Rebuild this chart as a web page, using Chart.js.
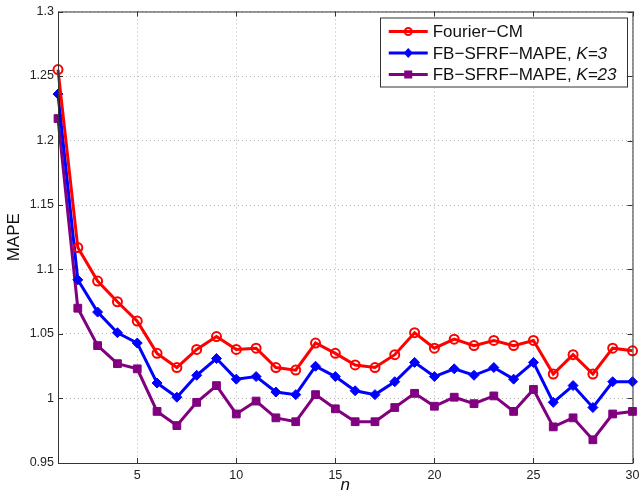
<!DOCTYPE html>
<html lang="en">
<head>
    <meta charset="utf-8">
    <title>MAPE vs n</title>
    <script src="https://cdn.jsdelivr.net/npm/chart.js"></script>
    <style>
        html, body {
            margin: 0;
            padding: 0;
            background: #fff;
        }

        #chartBox {
            width: 639px;
            height: 503px;
        }
    </style>
</head>
<body>
    <div id="chartBox">
        <canvas id="mapeChart"></canvas>
    </div>
    <script>
        // data
        const nValues = [1, 2, 3, 4, 5, 6, 7, 8, 9, 10, 11, 12, 13, 14, 15, 16, 17, 18, 19, 20, 21, 22, 23, 24, 25, 26, 27, 28, 29, 30];
        const fourierCM = [1.255, 1.117, 1.091, 1.075, 1.060, 1.035, 1.024, 1.038, 1.048, 1.038, 1.039, 1.024, 1.022, 1.043, 1.035,
            1.026, 1.024, 1.034, 1.051, 1.039, 1.046, 1.041, 1.045, 1.041, 1.045, 1.019, 1.034, 1.019, 1.039, 1.037];
        const sfrfK3 = [1.236, 1.092, 1.067, 1.051, 1.043, 1.012, 1.001, 1.018, 1.031, 1.015, 1.017, 1.005, 1.003, 1.025, 1.017,
            1.006, 1.003, 1.013, 1.028, 1.017, 1.023, 1.018, 1.024, 1.015, 1.028, 0.997, 1.010, 0.993, 1.013, 1.013];
        const sfrfK23 = [1.217, 1.070, 1.041, 1.027, 1.023, 0.990, 0.979, 0.997, 1.010, 0.988, 0.998, 0.985, 0.982, 1.003, 0.992,
            0.982, 0.982, 0.993, 1.004, 0.994, 1.001, 0.996, 1.002, 0.990, 1.007, 0.978, 0.985, 0.968, 0.988, 0.990];

        const seriesNames = ['Fourier\u2212CM', 'FB\u2212SFRF\u2212MAPE, ', 'FB\u2212SFRF\u2212MAPE, '];
        const seriesItalic = ['', 'K=3', 'K=23'];
        const seriesColors = ['#ff0000', '#0000ff', '#800080'];

        const xTicks = [5, 10, 15, 20, 25, 30];
        const yTicks = [0.95, 1, 1.05, 1.1, 1.15, 1.2, 1.25, 1.3];

        const fontFamily = '"Liberation Sans", Arial, Helvetica, sans-serif';

        function toPoints(values) {
            return values.map((v, i) => ({ x: nValues[i], y: v }));
        }

        // box, inward ticks and legend like the matlab figure
        const matlabFrame = {
            id: 'matlabFrame',
            afterDatasetsDraw(chart) {
                const ctx = chart.ctx;
                const a = chart.chartArea;
                const xs = chart.scales.x;
                const ys = chart.scales.y;
                ctx.save();
                ctx.strokeStyle = '#333';
                ctx.lineWidth = 1;
                ctx.setLineDash([]);
                ctx.strokeRect(a.left + 0.5, a.top + 0.5, a.right - a.left, a.bottom - a.top);
                ctx.beginPath();
                xTicks.forEach(v => {
                    const px = Math.round(xs.getPixelForValue(v)) + 0.5;
                    ctx.moveTo(px, a.bottom);
                    ctx.lineTo(px, a.bottom - 5);
                    ctx.moveTo(px, a.top);
                    ctx.lineTo(px, a.top + 5);
                });
                yTicks.forEach(v => {
                    const py = Math.round(ys.getPixelForValue(v)) + 0.5;
                    ctx.moveTo(a.left, py);
                    ctx.lineTo(a.left + 5, py);
                    ctx.moveTo(a.right, py);
                    ctx.lineTo(a.right - 5, py);
                });
                ctx.stroke();

                // legend
                const plainFont = '17px ' + fontFamily;
                const italicFont = 'italic 17px ' + fontFamily;
                let maxW = 0;
                seriesNames.forEach((name, i) => {
                    ctx.font = plainFont;
                    let w = ctx.measureText(name).width;
                    ctx.font = italicFont;
                    w += ctx.measureText(seriesItalic[i]).width;
                    maxW = Math.max(maxW, w);
                });
                const lineLen = 39;
                const boxW = 9 + lineLen + 5 + maxW + 10;
                const rowH = 21.5;
                const boxH = 69;
                const boxR = a.right - 6;
                const boxL = boxR - boxW;
                const boxT = a.top + 6;
                ctx.fillStyle = '#fff';
                ctx.fillRect(boxL, boxT, boxW, boxH);
                ctx.strokeStyle = '#333';
                ctx.strokeRect(Math.round(boxL) + 0.5, boxT + 0.5, Math.round(boxW), boxH);

                seriesNames.forEach((name, i) => {
                    const cy = boxT + 14 + i * rowH;
                    const lx = boxL + 9;
                    const col = seriesColors[i];
                    ctx.strokeStyle = col;
                    ctx.lineWidth = 3;
                    ctx.beginPath();
                    ctx.moveTo(lx, cy);
                    ctx.lineTo(lx + lineLen, cy);
                    ctx.stroke();
                    const mx = lx + lineLen / 2;
                    ctx.fillStyle = col;
                    ctx.lineWidth = 2;
                    ctx.beginPath();
                    if (i === 0) {
                        ctx.arc(mx, cy, 3.5, 0, Math.PI * 2);
                        ctx.stroke();
                    } else if (i === 1) {
                        ctx.moveTo(mx, cy - 5);
                        ctx.lineTo(mx + 4.5, cy);
                        ctx.lineTo(mx, cy + 5);
                        ctx.lineTo(mx - 4.5, cy);
                        ctx.closePath();
                        ctx.fill();
                    } else {
                        ctx.rect(mx - 4, cy - 4, 8, 8);
                        ctx.fill();
                    }
                    ctx.fillStyle = '#111';
                    ctx.textBaseline = 'middle';
                    ctx.textAlign = 'left';
                    ctx.font = plainFont;
                    const tx = lx + lineLen + 5;
                    ctx.fillText(name, tx, cy + 1);
                    const w = ctx.measureText(name).width;
                    ctx.font = italicFont;
                    ctx.fillText(seriesItalic[i], tx + w, cy + 1);
                });
                ctx.restore();
            }
        };

        const datasets = [
            {
                label: seriesNames[0] + seriesItalic[0],
                data: toPoints(fourierCM),
                borderColor: seriesColors[0],
                backgroundColor: seriesColors[0],
                pointStyle: 'circle',
                pointRadius: 4.5,
                pointBorderWidth: 2,
                pointBackgroundColor: 'rgba(0,0,0,0)',
                pointBorderColor: seriesColors[0]
            },
            {
                label: seriesNames[1] + seriesItalic[1],
                data: toPoints(sfrfK3),
                borderColor: seriesColors[1],
                backgroundColor: seriesColors[1],
                pointStyle: 'rectRot',
                pointRadius: 5,
                pointBorderWidth: 1,
                pointBackgroundColor: seriesColors[1],
                pointBorderColor: seriesColors[1]
            },
            {
                label: seriesNames[2] + seriesItalic[2],
                data: toPoints(sfrfK23),
                borderColor: seriesColors[2],
                backgroundColor: seriesColors[2],
                pointStyle: 'rect',
                pointRadius: 5.5,
                pointBorderWidth: 1,
                pointBackgroundColor: seriesColors[2],
                pointBorderColor: seriesColors[2]
            }
        ];
        datasets.forEach(d => {
            d.borderWidth = 3;
            d.tension = 0;
            d.fill = false;
            d.clip = false;
        });

        new Chart(document.getElementById('mapeChart'), {
            type: 'line',
            data: { datasets: datasets },
            options: {
                responsive: true,
                maintainAspectRatio: false,
                animation: false,
                devicePixelRatio: 1,
                layout: {
                    padding: { top: 11, right: 6, bottom: 0, left: 0 }
                },
                plugins: {
                    legend: { display: false },
                    tooltip: { enabled: false }
                },
                scales: {
                    x: {
                        type: 'linear',
                        min: 1,
                        max: 30,
                        afterBuildTicks: s => { s.ticks = xTicks.map(v => ({ value: v })); },
                        afterFit: s => {
                            s.height = 40;
                            s.paddingRight = 0;
                            s.paddingLeft = 0;
                        },
                        ticks: {
                            color: '#222',
                            font: { family: fontFamily, size: 12.5 },
                            padding: 5,
                            maxRotation: 0,
                            autoSkip: false
                        },
                        grid: {
                            color: '#b4b4b4',
                            lineWidth: 1,
                            drawTicks: false
                        },
                        border: { display: false, dash: [1, 3] },
                        title: {
                            display: true,
                            text: 'n',
                            color: '#111',
                            font: { family: fontFamily, size: 17, style: 'italic' },
                            padding: { top: 8, bottom: 8 }
                        }
                    },
                    y: {
                        type: 'linear',
                        min: 0.95,
                        max: 1.3,
                        afterBuildTicks: s => { s.ticks = yTicks.map(v => ({ value: v })); },
                        afterFit: s => { s.width = 58; },
                        ticks: {
                            color: '#222',
                            font: { family: fontFamily, size: 12.5 },
                            padding: 4,
                            callback: v => String(v)
                        },
                        grid: {
                            color: '#b4b4b4',
                            lineWidth: 1,
                            drawTicks: false
                        },
                        border: { display: false, dash: [1, 3] },
                        title: {
                            display: true,
                            text: 'MAPE',
                            color: '#111',
                            font: { family: fontFamily, size: 17 },
                            padding: { top: 4, bottom: 4 }
                        }
                    }
                }
            },
            plugins: [matlabFrame]
        });
    </script>
</body>
</html>
